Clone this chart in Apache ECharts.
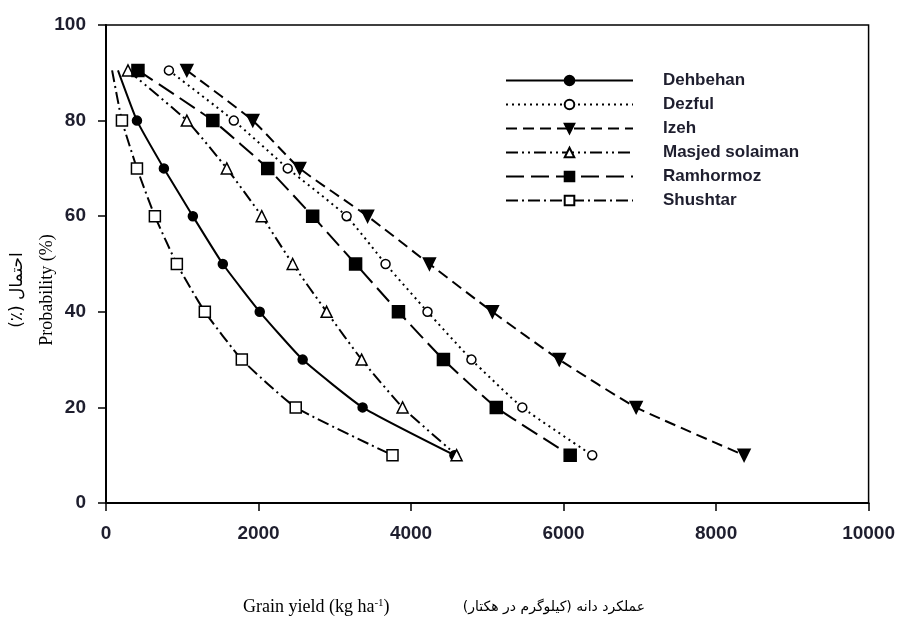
<!DOCTYPE html>
<html>
<head>
<meta charset="utf-8">
<script src="https://cdn.jsdelivr.net/npm/echarts@6/dist/echarts.min.js"></script>
<style>
  html, body { margin: 0; padding: 0; background: #fff; }
  #chart { width: 898px; height: 618px; }
</style>
</head>
<body>
<div id="chart"></div>
<script>
// Probability levels (%) for each point, top row first
const probability = [90.5, 80, 70, 60, 50, 40, 30, 20, 10];
// Grain yield (kg/ha)
const dehbehan  = [157, 406, 759, 1139, 1532, 2016, 2579, 3365, 4569];
const dezful    = [825, 1676, 2383, 3155, 3666, 4216, 4792, 5459, 6376];
const izeh      = [1060, 1925, 2540, 3430, 4241, 5067, 5944, 6952, 8367];
const masjed    = [288, 1060, 1584, 2042, 2448, 2893, 3352, 3889, 4597];
const ramhormoz = [419, 1401, 2121, 2710, 3273, 3835, 4425, 5118, 6087];
const shushtar  = [80, 209, 406, 641, 929, 1296, 1781, 2488, 3757];
const seriesNames = ['Dehbehan', 'Dezful', 'Izeh', 'Masjed solaiman', 'Ramhormoz', 'Shushtar'];
const xTicks = [0, 2000, 4000, 6000, 8000, 10000];
const yTicks = [0, 20, 40, 60, 80, 100];
// series whose top point has no marker
const noTopMarker = ['Dehbehan', 'Shushtar'];

function build(name, xs) {
  return xs.map((x, i) => {
    const item = { value: [x, probability[i]] };
    if (i === 0 && noTopMarker.indexOf(name) >= 0) item.symbol = 'none';
    return item;
  });
}

const styles = {
  'Dehbehan':        { symbol: 'circle',   size: 9,  fill: '#000', dash: 'solid',             rot: 0 },
  'Dezful':          { symbol: 'circle',   size: 9,  fill: '#fff', dash: [2, 4],               rot: 0 },
  'Izeh':            { symbol: 'triangle', size: 12, fill: '#000', dash: [11, 6],              rot: 180 },
  'Masjed solaiman': { symbol: 'triangle', size: 11, fill: '#fff', dash: [12, 4, 2, 4, 2, 4],  rot: 0 },
  'Ramhormoz':       { symbol: 'rect',     size: 12, fill: '#000', dash: [18, 7],              rot: 0 },
  'Shushtar':        { symbol: 'rect',     size: 11, fill: '#fff', dash: [12, 4, 2, 4],        rot: 0 }
};
const dataMap = {
  'Dehbehan': dehbehan, 'Dezful': dezful, 'Izeh': izeh,
  'Masjed solaiman': masjed, 'Ramhormoz': ramhormoz, 'Shushtar': shushtar
};

const series = seriesNames.map(n => {
  const s = styles[n];
  return {
    name: n,
    type: 'line',
    data: build(n, dataMap[n]),
    symbol: s.symbol,
    symbolSize: s.size,
    symbolRotate: s.rot,
    smooth: 0.15,
    lineStyle: { color: '#000', width: 2, type: s.dash },
    itemStyle: { color: s.fill, borderColor: '#000', borderWidth: 1.5 },
    emphasis: { disabled: true },
    animation: false
  };
});

const chart = echarts.init(document.getElementById('chart'), null, { renderer: 'canvas' });
chart.setOption({
  animation: false,
  backgroundColor: '#fff',
  grid: { left: 106, right: 29, top: 25, bottom: 115, show: true, borderColor: '#000', borderWidth: 1.5, backgroundColor: 'transparent' },
  legend: {
    orient: 'vertical',
    left: 500,
    top: 67,
    itemWidth: 127,
    itemHeight: 12,
    itemGap: 7,
    selectedMode: false,
    data: seriesNames,
    textStyle: {
      fontFamily: 'Liberation Sans, Arial, sans-serif',
      fontWeight: 'bold',
      fontSize: 17,
      lineHeight: 17,
      color: '#1e1e2e',
      padding: [0, 0, 0, 25]
    }
  },
  xAxis: {
    type: 'value',
    min: xTicks[0],
    max: xTicks[xTicks.length - 1],
    interval: 2000,
    axisLine: { show: true, onZero: false, lineStyle: { color: '#000', width: 2 } },
    axisTick: { show: true, inside: false, length: 8, lineStyle: { color: '#000', width: 1.5 } },
    splitLine: { show: false },
    axisLabel: {
      margin: 21,
      fontFamily: 'Liberation Sans, Arial, sans-serif',
      fontWeight: 'bold',
      fontSize: 19,
      color: '#1e1e2e',
      formatter: v => String(v)
    }
  },
  yAxis: {
    type: 'value',
    min: yTicks[0],
    max: yTicks[yTicks.length - 1],
    interval: 20,
    axisLine: { show: true, onZero: false, lineStyle: { color: '#000', width: 2 } },
    axisTick: { show: true, inside: false, length: 8, lineStyle: { color: '#000', width: 1.5 } },
    splitLine: { show: false },
    axisLabel: {
      margin: 20,
      fontFamily: 'Liberation Sans, Arial, sans-serif',
      fontWeight: 'bold',
      fontSize: 19,
      color: '#1e1e2e'
    }
  },
  graphic: [
    {
      type: 'text', x: 47, y: 290, rotation: Math.PI / 2,
      style: {
        text: 'Probability (%)', fill: '#000',
        font: '18px "Liberation Serif", "Times New Roman", serif',
        textAlign: 'center', textVerticalAlign: 'middle'
      }
    },
    {
      type: 'text', x: 18, y: 290, rotation: Math.PI / 2,
      style: {
        text: '\u200Fاحتمال (٪)\u200F', fill: '#000',
        font: '17px "DejaVu Sans", sans-serif',
        textAlign: 'center', textVerticalAlign: 'middle'
      }
    },
    {
      type: 'text', x: 243, y: 607,
      style: {
        text: '{a|Grain yield (kg ha}{s|-1}{a|)}',
        rich: {
          a: { fontFamily: 'Liberation Serif, Times New Roman, serif', fontSize: 18, fill: '#000', verticalAlign: 'bottom' },
          s: { fontFamily: 'Liberation Serif, Times New Roman, serif', fontSize: 11, fill: '#000', verticalAlign: 'top', padding: [0, 0, 8, 0] }
        },
        textAlign: 'left', textVerticalAlign: 'middle'
      }
    },
    {
      type: 'text', x: 645, y: 607,
      style: {
        text: '\u200Fعملکرد دانه (کیلوگرم در هکتار)\u200F', fill: '#000',
        font: '14px "DejaVu Sans", sans-serif',
        textAlign: 'right', textVerticalAlign: 'middle'
      }
    }
  ],
  series: series
});
</script>
</body>
</html>
